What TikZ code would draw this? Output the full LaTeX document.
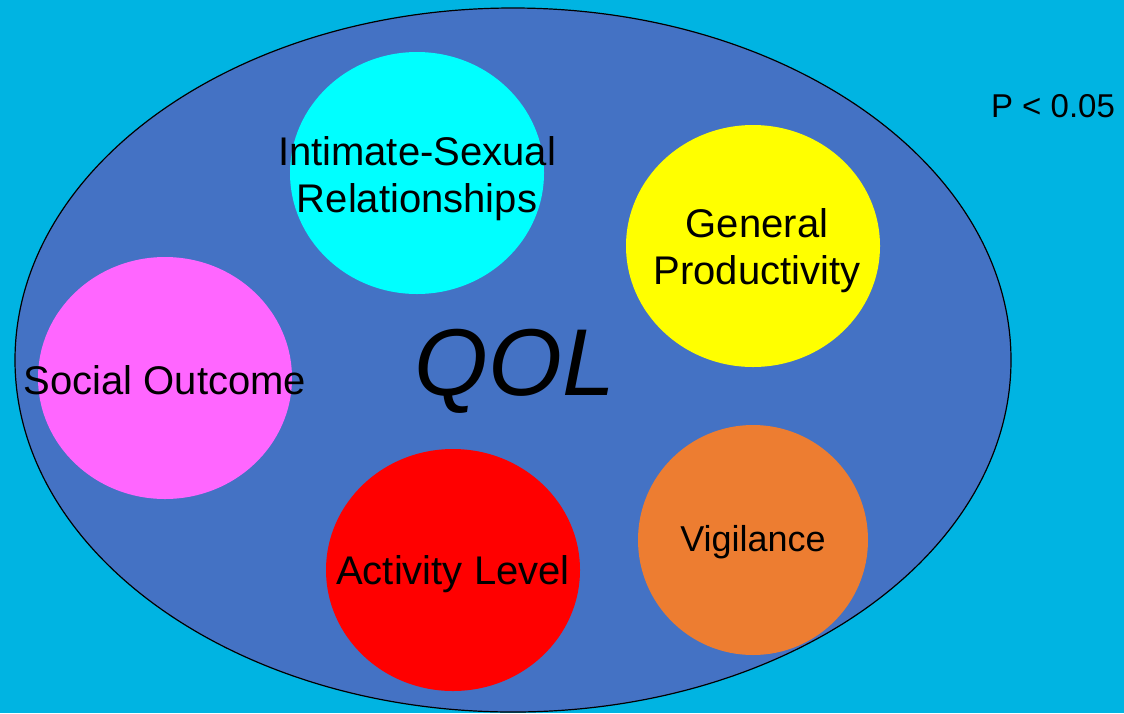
\documentclass[tikz,border=0pt]{standalone}
\usepackage{fontspec}
\setmainfont{Liberation Sans}
\begin{document}
\begin{tikzpicture}[x=1pt,y=-1pt,
  lbl/.style={align=center,font=\fontsize{40}{47}\selectfont,text=black}]
\definecolor{sky}{RGB}{0,180,226}
\definecolor{qolblue}{RGB}{68,114,196}
\definecolor{aqua}{RGB}{0,255,255}
\definecolor{lemon}{RGB}{255,255,0}
\definecolor{pink}{RGB}{255,102,255}
\definecolor{scarlet}{RGB}{255,0,0}
\definecolor{orng}{RGB}{237,125,49}
% backdrop
\fill[sky] (0,0) rectangle (1124,713);
\useasboundingbox (0,0) rectangle (1124,713);
% outer QOL ellipse
\draw[fill=qolblue,line width=1.2pt] (513,360) ellipse [x radius=498, y radius=352];
% domain bubbles
\fill[aqua] (417,173) ellipse [x radius=127, y radius=121];
\fill[lemon] (753,246) ellipse [x radius=127, y radius=121];
\fill[pink] (165,378) ellipse [x radius=127, y radius=121];
\fill[scarlet] (453,570) ellipse [x radius=127, y radius=121];
\fill[orng] (753,540) ellipse [x radius=115, y radius=115];
% labels
\node[lbl] (intimate) at (417,179) {Intimate-Sexual\\Relationships};
\node[lbl] (general) at (757,251) {General\\Productivity};
\node[lbl] (social) at (165,380) {Social Outcome};
\node[lbl] (activity) at (453,574) {Activity Level};
\node[lbl,font=\fontsize{36}{44}\selectfont] (vigil) at (753,542) {Vigilance};
\node[font=\fontsize{95}{100}\selectfont\itshape] (qol) at (515,371) {QOL};
\node[font=\fontsize{33}{40}\selectfont] (pval) at (1053,106) {P < 0.05};
\end{tikzpicture}
\end{document}
